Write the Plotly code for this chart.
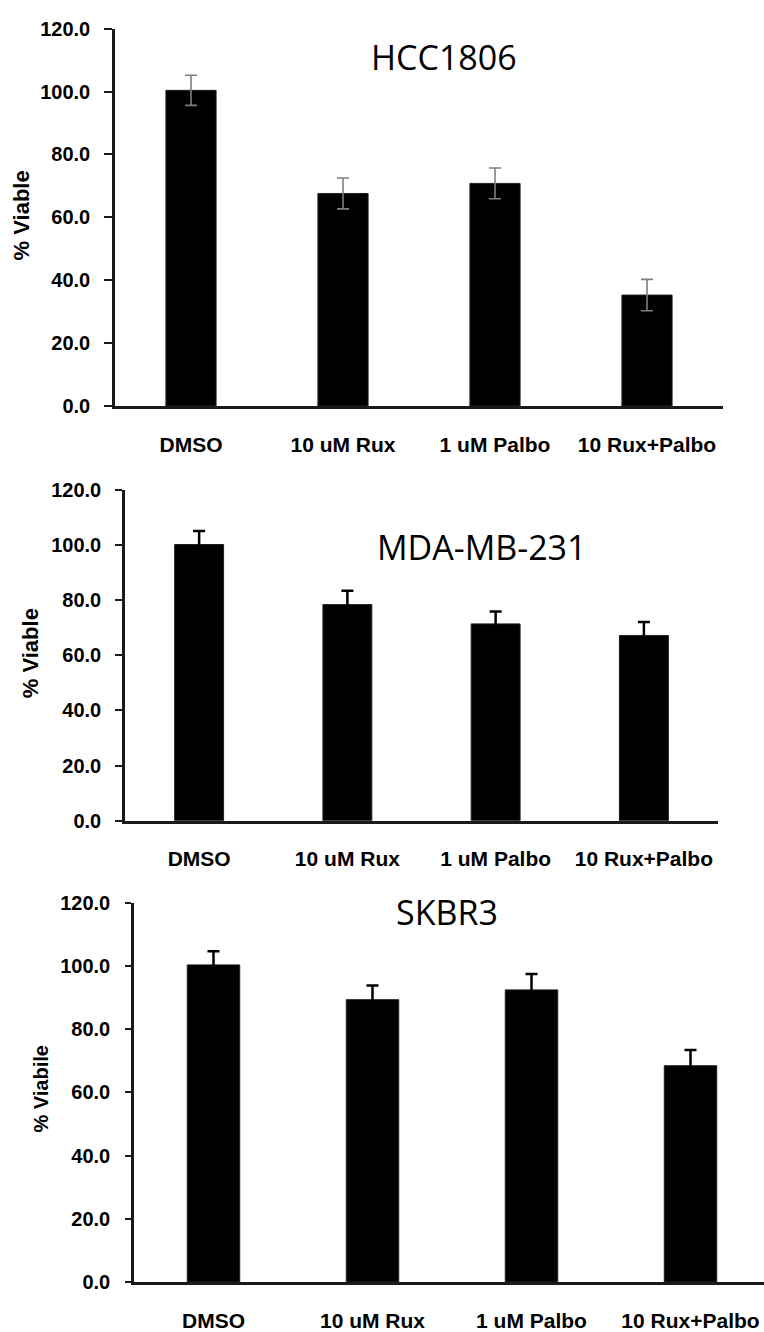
import plotly.graph_objects as go

W, H = 764, 1332

categories = ["DMSO", "10 uM Rux", "1 uM Palbo", "10 Rux+Palbo"]

hcc1806_values = [100.4, 67.6, 70.8, 35.3]
hcc1806_err = [4.8, 4.9, 4.9, 5.0]

mda_values = [100.2, 78.4, 71.4, 67.2]
mda_err = [4.9, 5.0, 4.5, 4.9]

skbr3_values = [100.3, 89.3, 92.4, 68.4]
skbr3_err = [4.3, 4.5, 5.0, 5.0]

titles = ["HCC1806", "MDA-MB-231", "SKBR3"]
ylabels = ["% Viable", "% Viable", "% Viabile"]
ytick_vals = [0, 20, 40, 60, 80, 100, 120]

# pixel layout of each panel
panels = [
    dict(x0=115, x1=723, yt=18, yb=402, xr_end=3.5, err_color="#7f7f7f", err_thick=1.6, err_w=6,
         title_xy=(444, 47), ylab_xy=(21, 208), ylab_size=22, tlen=8, ystand=10, xstand=18),
    dict(x0=125, x1=718, yt=487.3, yb=824, xr_end=3.5, err_color="#000000", err_thick=2.5, err_w=6,
         title_xy=(482, 545), ylab_xy=(30.5, 654), ylab_size=22, tlen=7, ystand=10, xstand=17),
    dict(x0=134, x1=764, yt=907.3, yb=1293.3, xr_end=3.5 - 6 / 159, err_color="#000000", err_thick=2.5, err_w=6,
         title_xy=(447, 917), ylab_xy=(41.5, 1097), ylab_size=20, tlen=6, ystand=11, xstand=18),
]

values = [hcc1806_values, mda_values, skbr3_values]
errors = [hcc1806_err, mda_err, skbr3_err]

fig = go.Figure()
annotations = []
for i, p in enumerate(panels):
    n = "" if i == 0 else str(i + 1)
    fig.add_trace(go.Bar(
        x=categories, y=values[i],
        xaxis="x" + n, yaxis="y" + n,
        width=0.33,
        marker=dict(color="black", line=dict(color="#202020", width=1)),
        error_y=dict(type="data", array=errors[i], visible=True,
                     color=p["err_color"], thickness=p["err_thick"], width=p["err_w"]),
        showlegend=False,
        hoverinfo="skip",
    ))
    xd = [p["x0"] / W, p["x1"] / W]
    yd = [1 - p["yb"] / H, 1 - p["yt"] / H]
    fig.layout["xaxis" + n] = dict(
        domain=xd, anchor="y" + n, type="category",
        range=[-0.5, p["xr_end"]],
        showline=True, linecolor="#1a1a1a", linewidth=2.5,
        ticks="", showgrid=False, zeroline=False,
        tickfont=dict(family="Liberation Sans, Arial", size=21, color="black", weight="bold"),
        ticklabelstandoff=p["xstand"],
        fixedrange=True,
    )
    fig.layout["yaxis" + n] = dict(
        domain=yd, anchor="x" + n,
        range=[0, 120], tickvals=ytick_vals, tickformat=".1f",
        showline=True, linecolor="#1a1a1a", linewidth=2.5,
        ticks="outside", ticklen=p["tlen"], tickwidth=2, tickcolor="#1a1a1a",
        showgrid=False, zeroline=False,
        tickfont=dict(family="Liberation Sans, Arial", size=20, color="black", weight="bold"),
        ticklabelstandoff=p["ystand"],
        fixedrange=True,
    )
    annotations.append(dict(
        text=titles[i], x=p["title_xy"][0] / W, y=1 - p["title_xy"][1] / H,
        xref="paper", yref="paper", xanchor="center", yanchor="middle", showarrow=False,
        font=dict(family="Open Sans", size=34, color="black"),
    ))
    annotations.append(dict(
        text=ylabels[i], x=p["ylab_xy"][0] / W, y=1 - p["ylab_xy"][1] / H,
        xref="paper", yref="paper", xanchor="center", yanchor="middle", showarrow=False,
        textangle=-90,
        font=dict(family="Liberation Sans, Arial", size=p["ylab_size"], color="black", weight="bold"),
    ))

fig.update_layout(
    width=W, height=H,
    margin=dict(l=0, r=0, t=0, b=0),
    paper_bgcolor="white", plot_bgcolor="white",
    annotations=annotations,
    showlegend=False,
)

fig.write_html("out.html", config={"displayModeBar": False},
               post_script="document.body.style.margin='0px';document.body.style.overflow='hidden';")
